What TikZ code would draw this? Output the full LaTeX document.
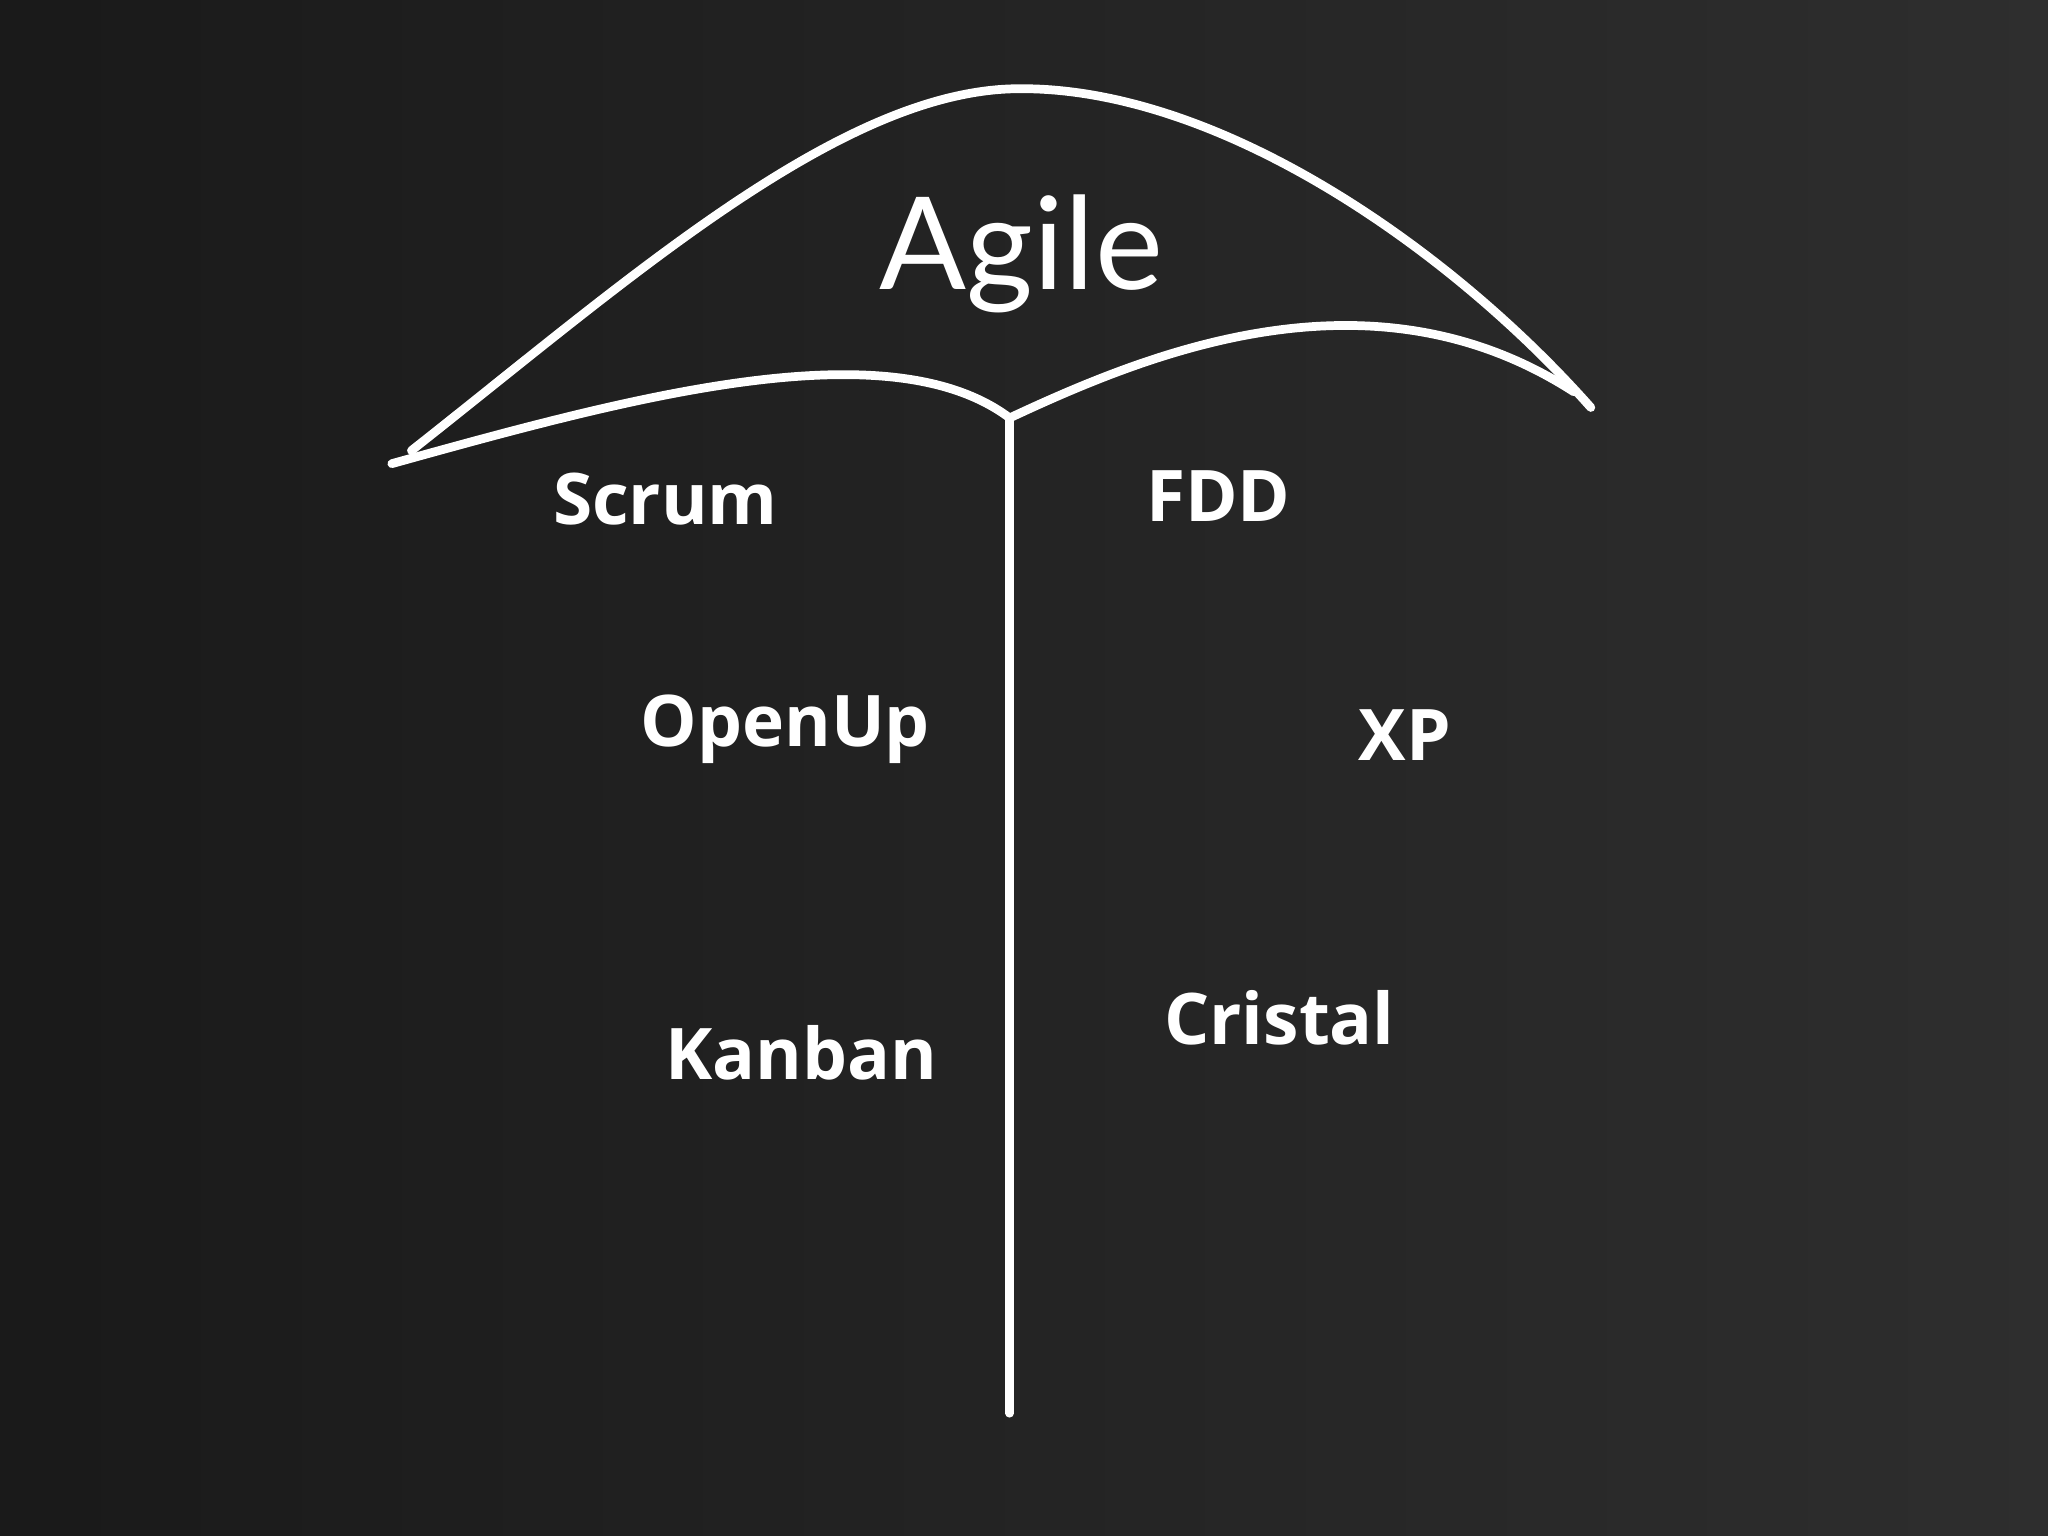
\documentclass[tikz,border=0pt]{standalone}
\usepackage{fontspec}
\setmainfont{Open Sans}
\newfontfamily\agilefont{Lato}
\begin{document}
\begin{tikzpicture}[x=0.01cm,y=-0.01cm,
  chalk/.style={draw=white,line width=1.9pt,line cap=round,line join=round},
  lab/.style={text=white,font=\bfseries\fontsize{15.5}{15.5}\selectfont,anchor=west}]
\shade[left color=black!90,right color=black!82] (0,0) rectangle (1568,1176);
\useasboundingbox (0,0) rectangle (1568,1176);
\coordinate (L) at (300,355);
\coordinate (R) at (1218,312);
\coordinate (J) at (773,320);
\coordinate (B) at (773,1082);
\draw[chalk] (315,345) .. controls (480,215) and (640,72) .. (775,68)
  .. controls (930,64) and (1110,190) .. (R);
\draw[chalk] (L) .. controls (480,305) and (680,250) .. (J)
  .. controls (880,270) and (1050,200) .. (1205,300);
\draw[chalk] (J) -- (B);
\node[text=white,font=\agilefont\fontsize{28}{28}\selectfont] (agile) at (782,194) {Agile};
\node[lab] (scrum) at (411,382) {Scrum};
\node[lab] (openup) at (478,558) {OpenUp};
\node[lab] (kanban) at (497,806) {Kanban};
\node[lab] (fdd) at (865,380) {FDD};
\node[lab] (xp) at (1028,563) {XP};
\node[lab] (cristal) at (879,779) {Cristal};
\end{tikzpicture}
\end{document}
